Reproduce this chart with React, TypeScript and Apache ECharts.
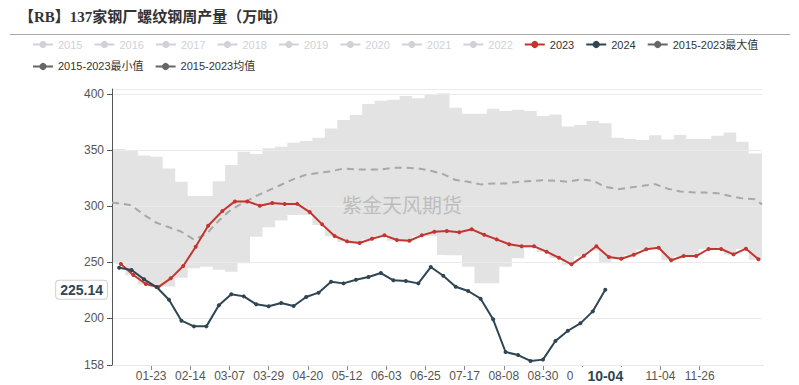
import React, { useEffect, useRef } from "react";
import * as echarts from "echarts";

// ---------- data ----------
const titleText = "【RB】137家钢厂螺纹钢周产量（万吨）";
const watermarkText = "紫金天风期货";

const monthDays = [31, 29, 31, 30, 31, 30, 31, 31, 30, 31, 30, 31];
const pad = (n: number) => (n < 10 ? "0" + n : String(n));
const dates: string[] = [];
monthDays.forEach((d, m) => {
  for (let i = 1; i <= d; i++) dates.push(pad(m + 1) + "-" + pad(i));
});

const xTickLabels = [
  "01-23", "02-14", "03-07", "03-29", "04-20", "05-12", "06-03", "06-25",
  "07-17", "08-08", "08-30", "09-21", "10-13", "11-04", "11-26",
];

const hiddenYears = ["2015", "2016", "2017", "2018", "2019", "2020", "2021", "2022"];
const NAME_MAX = "2015-2023最大值";
const NAME_MIN = "2015-2023最小值";
const NAME_MEAN = "2015-2023均值";

const weekDates = [
  "01-05", "01-12", "01-19", "01-26", "02-02", "02-09", "02-16", "02-23",
  "03-01", "03-08", "03-15", "03-22", "03-29", "04-05", "04-12", "04-19",
  "04-26", "05-03", "05-10", "05-17", "05-24", "05-31", "06-07", "06-14",
  "06-21", "06-28", "07-05", "07-12", "07-19", "07-26", "08-02", "08-09",
  "08-16", "08-23", "08-30", "09-06", "09-13", "09-20", "09-27", "10-04",
  "10-11", "10-18", "10-25", "11-01", "11-08", "11-15", "11-22", "11-29",
  "12-06", "12-13", "12-20", "12-27",
];

const dates2023 = [
  "01-06", "01-13", "01-20", "01-27", "02-03", "02-10", "02-17", "02-24",
  "03-03", "03-10", "03-17", "03-24", "03-31", "04-07", "04-14", "04-21",
  "04-28", "05-05", "05-12", "05-19", "05-26", "06-02", "06-09", "06-16",
  "06-23", "06-30", "07-07", "07-14", "07-21", "07-28", "08-04", "08-11",
  "08-18", "08-25", "09-01", "09-08", "09-15", "09-22", "09-29", "10-06",
  "10-13", "10-20", "10-27", "11-03", "11-10", "11-17", "11-24", "12-01",
  "12-08", "12-15", "12-22", "12-29",
];
const values2023 = [
  248.2, 238.4, 230.3, 227.6, 235.4, 246.4, 263.6, 282.4, 295.5, 304.1,
  304.1, 300.3, 302.6, 301.8, 301.9, 294.6, 283.6, 273.2, 268.4, 266.9,
  270.8, 273.8, 269.6, 269.0, 273.8, 277.0, 277.6, 276.5, 279.2, 274.3,
  270.2, 265.8, 264.0, 264.0, 259.2, 253.8, 247.9, 255.6, 264.0, 254.4,
  252.9, 256.5, 261.3, 262.7, 251.5, 255.3, 255.3, 261.6, 261.6, 256.8,
  261.9, 252.4,
];

const dates2024 = weekDates.slice(0, 40);
const values2024 = [
  244.9, 242.8, 234.5, 227.6, 216.3, 197.6, 192.5, 192.5, 211.3, 221.1,
  219.3, 212.2, 210.4, 213.4, 210.7, 218.7, 222.6, 232.4, 230.9, 234.2,
  236.6, 240.1, 233.6, 233.0, 230.9, 245.5, 237.7, 227.9, 224.1, 217.2,
  198.8, 169.6, 166.9, 161.6, 162.8, 179.4, 188.6, 195.2, 205.9, 225.14,
];

const bandDates = ["01-01", ...weekDates, "12-31"];
const maxValues = [
  350.9,
  350.9, 349.4, 345.2, 344.0, 333.6, 321.7, 308.9, 308.9, 322.0, 336.6,
  348.5, 346.4, 351.5, 352.9, 356.5, 358.0, 360.9, 369.3, 376.8, 381.2,
  391.0, 394.0, 394.9, 398.2, 396.2, 399.7, 400.6, 387.7, 382.4, 382.4,
  386.8, 384.8, 386.0, 384.8, 380.3, 381.8, 371.1, 372.3, 375.9, 373.8,
  360.9, 359.8, 358.9, 363.1, 359.5, 363.4, 359.8, 359.8, 362.7, 365.7,
  357.4, 347.0,
  347.0,
];
const minValues = [
  250.0,
  248.2, 238.0, 230.0, 227.5, 228.0, 236.0, 244.3, 245.8, 243.0, 241.3,
  248.8, 272.6, 281.0, 287.0, 292.0, 292.0, 283.0, 273.0, 268.0, 266.5,
  270.0, 273.0, 269.0, 268.5, 273.0, 273.0, 256.2, 256.0, 245.8, 231.0,
  231.0, 245.8, 253.3, 263.0, 259.0, 253.5, 247.5, 255.0, 260.0, 248.8,
  252.5, 256.0, 261.0, 262.5, 251.5, 255.0, 255.0, 261.5, 261.5, 256.5,
  261.5, 252.0,
  252.0,
];
const meanValues = [
  303.0,
  302.5, 300.5, 292.0, 285.0, 281.0, 277.0, 270.0, 275.0, 287.0, 297.0,
  303.0, 309.0, 314.0, 319.0, 324.0, 328.0, 329.5, 331.0, 333.5, 332.7,
  332.7, 332.7, 334.2, 334.2, 333.6, 331.5, 328.5, 323.2, 321.7, 319.3,
  320.2, 320.2, 321.5, 322.3, 323.0, 322.6, 321.7, 323.8, 322.6, 317.2,
  315.0, 316.5, 318.0, 319.5, 315.5, 313.0, 312.2, 312.0, 311.5, 309.0,
  306.8, 306.0,
  301.5,
];

const yMin = 158;
const yMax = 404.5;
const pointerDate = "10-04";
const pointerValue = 225.14;

// ---------- style ----------
const FONT = '"Liberation Sans", Arial, "Noto Sans CJK SC", sans-serif';
const RED = "#c23531";
const DARK = "#2f4554";
const GREY = "#666666";

const pairs = (xs: string[], ys: number[]) => xs.map((x, i) => [x, ys[i]]);

export default function App() {
  const ref = useRef<HTMLDivElement>(null);

  useEffect(() => {
    document.body.style.margin = "0";
    if (!ref.current) return;
    const chart = echarts.init(ref.current, null, { renderer: "svg" });

    const showLabel = (_i: number, v: string) => xTickLabels.includes(v);
    const greyNames = [NAME_MAX, NAME_MIN, NAME_MEAN];
    const legendNames = [...hiddenYears, "2023", "2024", ...greyNames];
    const selected: Record<string, boolean> = {};
    hiddenYears.forEach((y) => (selected[y] = false));

    const bandDiff = maxValues.map((v, i) => +(v - minValues[i]).toFixed(2));

    const option: any = {
      animation: false,
      textStyle: { fontFamily: FONT },
      title: {
        text: titleText,
        left: 14,
        top: 4,
        textStyle: {
          fontSize: 15,
          fontWeight: "bold",
          fontFamily: '"Liberation Serif", "Noto Sans CJK SC", serif',
          color: "#333",
        },
      },
      legend: {
        left: 27,
        right: 5,
        top: 34,
        itemWidth: 20,
        itemHeight: 9,
        itemGap: 11,
        textStyle: { fontSize: 11, color: "#333", lineHeight: 9, fontFamily: FONT },
        selected,
        data: legendNames.map((name) =>
          greyNames.includes(name)
            ? {
                name,
                itemStyle: { color: GREY },
                lineStyle: { color: GREY, width: 2, opacity: 1, type: "solid" },
              }
            : name
        ),
      },
      grid: { left: 112, right: 37, top: 89, bottom: 20 },
      xAxis: {
        type: "category",
        data: dates,
        boundaryGap: false,
        axisLine: { lineStyle: { color: "#888" } },
        axisTick: { interval: showLabel, length: 5, lineStyle: { color: "#888" } },
        axisLabel: { interval: showLabel, color: "#555", fontSize: 12, margin: 5 },
        splitLine: { show: false },
        axisPointer: {
          show: true,
          type: "none",
          status: "show",
          value: dates.indexOf(pointerDate),
          triggerTooltip: false,
          triggerEmphasis: false,
          label: {
            show: true,
            margin: 3,
            color: DARK,
            fontWeight: "bold",
            fontSize: 14,
            fontFamily: FONT,
            backgroundColor: "#fff",
            padding: [2, 14],
            borderWidth: 0,
          },
        },
      },
      yAxis: {
        type: "value",
        min: yMin,
        max: yMax,
        z: 2,
        axisLine: { show: true, lineStyle: { color: "#555" } },
        axisTick: { show: true, length: 5, lineStyle: { color: "#555" } },
        axisLabel: { color: "#555", fontSize: 12, showMaxLabel: false },
        splitLine: { show: true, lineStyle: { color: "#ebebeb" } },
        axisPointer: {
          show: true,
          type: "none",
          status: "show",
          value: pointerValue,
          triggerTooltip: false,
          triggerEmphasis: false,
          label: {
            show: true,
            margin: 5,
            color: DARK,
            fontWeight: "bold",
            fontSize: 14,
            fontFamily: FONT,
            backgroundColor: "#fff",
            borderColor: "#d0d0d0",
            borderWidth: 1,
            borderRadius: 3,
            padding: [2, 4],
            formatter: (p: any) => Number(p.value).toFixed(2),
          },
        },
      },
      graphic: [
        {
          type: "line",
          shape: { x1: 10, y1: 34.5, x2: 790, y2: 34.5 },
          style: { stroke: "#aaa", lineWidth: 1 },
          z: 10,
        },
        {
          type: "text",
          left: 342,
          top: 194,
          z: 10,
          style: {
            text: watermarkText,
            fontSize: 20,
            fontFamily: '"Noto Sans CJK SC", sans-serif',
            fill: "rgba(150,150,150,0.5)",
          },
        },
      ],
      series: [
        ...hiddenYears.map((name) => ({
          name,
          type: "line",
          data: [],
          symbol: "circle",
          symbolSize: 4,
          lineStyle: { width: 2 },
        })),
        {
          name: NAME_MIN,
          type: "line",
          data: pairs(bandDates, minValues),
          stack: "band",
          step: "middle",
          symbol: "none",
          z: 1,
          itemStyle: { color: GREY },
          lineStyle: { width: 0, opacity: 0 },
        },
        {
          name: NAME_MAX,
          type: "line",
          data: pairs(bandDates, bandDiff),
          stack: "band",
          step: "middle",
          symbol: "none",
          z: 1,
          itemStyle: { color: GREY },
          lineStyle: { width: 0, opacity: 0 },
          areaStyle: { color: "#e3e3e3", opacity: 1 },
        },
        {
          name: NAME_MEAN,
          type: "line",
          data: pairs(bandDates, meanValues),
          symbol: "none",
          z: 3,
          itemStyle: { color: GREY },
          lineStyle: { color: "#a8a8a8", width: 2, type: [7, 5] },
        },
        {
          name: "2023",
          type: "line",
          data: pairs(dates2023, values2023),
          symbol: "circle",
          symbolSize: 4,
          showSymbol: true,
          showAllSymbol: true,
          z: 4,
          itemStyle: { color: RED },
          lineStyle: { color: RED, width: 2 },
        },
        {
          name: "2024",
          type: "line",
          data: pairs(dates2024, values2024),
          symbol: "circle",
          symbolSize: 4,
          showSymbol: true,
          showAllSymbol: true,
          z: 5,
          itemStyle: { color: DARK },
          lineStyle: { color: DARK, width: 2 },
        },
      ],
    };

    chart.setOption(option);
    return () => chart.dispose();
  }, []);

  return (
    <div
      ref={ref}
      style={{ position: "absolute", left: 0, top: 0, width: 799, height: 385, background: "#fff" }}
    />
  );
}
